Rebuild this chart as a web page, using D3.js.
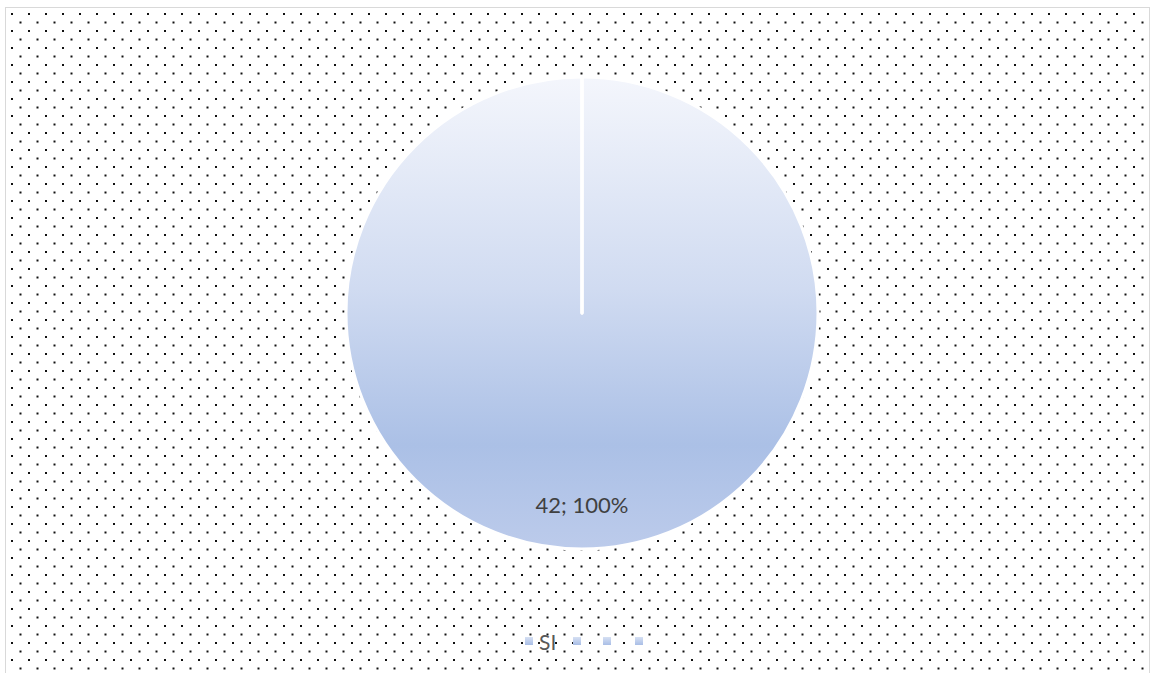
<!DOCTYPE html>
<html>
<head>
<meta charset="utf-8">
<script src="https://cdn.jsdelivr.net/npm/d3@7"></script>
<style>
  body { margin: 0; background: #ffffff; }
  svg { display: block; }
</style>
</head>
<body>
<div id="chart"></div>
<script>
var svgWidth = 1151;
var svgHeight = 673;

// data
var categories = ["SI", "", "", ""];
var values = [42, 0, 0, 0];
var legendLabels = ["SI", "", "", ""];

var svg = d3.select("#chart")
    .append("svg")
    .attr("width", svgWidth)
    .attr("height", svgHeight);

var defs = svg.append("defs");

// dotted background pattern
var pat = defs.append("pattern")
    .attr("id", "dots")
    .attr("patternUnits", "userSpaceOnUse")
    .attr("x", 11)
    .attr("y", 13)
    .attr("width", 17)
    .attr("height", 17);
pat.append("rect").attr("x", 0).attr("y", 0).attr("width", 2).attr("height", 2).attr("fill", "#111");
pat.append("rect").attr("x", 8.5).attr("y", 8.5).attr("width", 2).attr("height", 2).attr("fill", "#111");

// pie gradient
var grad = defs.append("linearGradient")
    .attr("id", "pieGrad")
    .attr("gradientUnits", "userSpaceOnUse")
    .attr("x1", 0).attr("y1", -236)
    .attr("x2", 0).attr("y2", 236);
grad.append("stop").attr("offset", "0%").attr("stop-color", "#f4f6fc");
grad.append("stop").attr("offset", "45%").attr("stop-color", "#d0dbf1");
grad.append("stop").attr("offset", "78%").attr("stop-color", "#abc0e6");
grad.append("stop").attr("offset", "100%").attr("stop-color", "#bccbeb");

var legGrad = defs.append("linearGradient")
    .attr("id", "legGrad")
    .attr("x1", 0).attr("y1", 0).attr("x2", 0).attr("y2", 1);
legGrad.append("stop").attr("offset", "0%").attr("stop-color", "#d6e0f3");
legGrad.append("stop").attr("offset", "100%").attr("stop-color", "#a9bee6");

// chart area with border
svg.append("rect")
    .attr("x", 5.5)
    .attr("y", 7.5)
    .attr("width", 1144)
    .attr("height", 680)
    .attr("fill", "url(#dots)")
    .attr("stroke", "#d9d9d9")
    .attr("stroke-width", 1);

var cx = 582, cy = 313, radius = 236;

var pie = d3.pie().sort(null).value(d => d);
var arcs = pie(values);
var arc = d3.arc().innerRadius(0).outerRadius(radius);

var pieGroup = svg.append("g")
    .attr("transform", `translate(${cx}, ${cy})`);

pieGroup.selectAll("path")
    .data(arcs)
    .enter()
    .append("path")
    .attr("d", arc)
    .attr("fill", "url(#pieGrad)")
    .attr("stroke", "#ffffff")
    .attr("stroke-width", 3)
    .attr("stroke-linejoin", "round");

// data label
var total = d3.sum(values);
var labelArc = d3.arc().innerRadius(radius * 0.8).outerRadius(radius * 0.8);
pieGroup.selectAll("text.lbl")
    .data(arcs.filter(d => d.data > 0))
    .enter()
    .append("text")
    .attr("class", "lbl")
    .attr("x", d => labelArc.centroid(d)[0])
    .attr("y", 191)
    .attr("text-anchor", "middle")
    .attr("dominant-baseline", "central")
    .attr("font-family", "Lato, Calibri, sans-serif")
    .attr("font-size", "22px")
    .attr("fill", "#404040")
    .text(d => d.data + "; " + Math.round(d.data / total * 100) + "%");

// legend
var legendXs = [525, 573, 603, 635];

var legend = svg.append("g");
legend.selectAll("rect")
    .data(legendLabels)
    .enter()
    .append("rect")
    .attr("x", (d, i) => legendXs[i])
    .attr("y", 637)
    .attr("width", 8)
    .attr("height", 8)
    .attr("fill", "url(#legGrad)");

legend.selectAll("text")
    .data(legendLabels)
    .enter()
    .append("text")
    .attr("x", (d, i) => legendXs[i] + 14)
    .attr("y", 641)
    .attr("dominant-baseline", "central")
    .attr("font-family", "Lato, Calibri, sans-serif")
    .attr("font-size", "21px")
    .attr("fill", "#595959")
    .text(d => d);
</script>
</body>
</html>
